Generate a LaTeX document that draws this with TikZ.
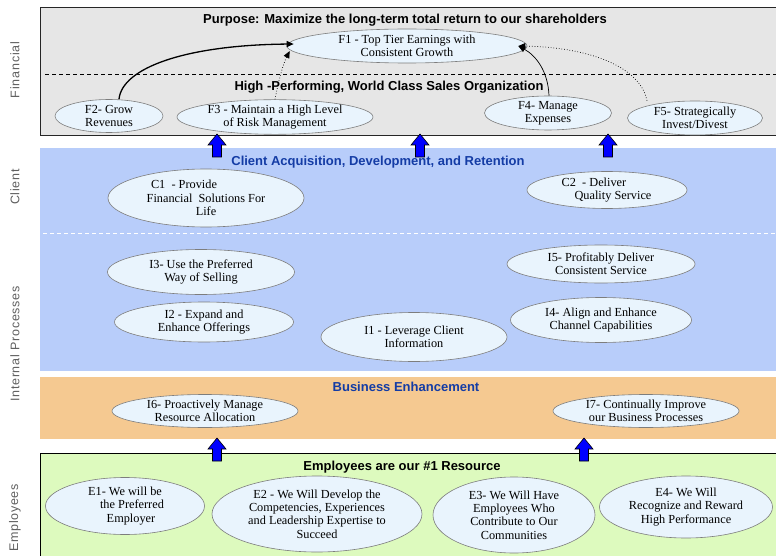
\documentclass[tikz,border=0pt]{standalone}
\usepackage{fontspec}
\setmainfont{Liberation Serif}
\setsansfont{Liberation Sans}
\newfontfamily\sidefont[LetterSpace=6]{Liberation Sans}
\usetikzlibrary{shapes.geometric,arrows.meta}

\definecolor{fingray}{RGB}{230,230,230}
\definecolor{clientblue}{RGB}{184,205,250}
\definecolor{bizorange}{RGB}{245,201,145}
\definecolor{empgreen}{RGB}{221,250,190}
\definecolor{ellfill}{RGB}{233,244,253}
\definecolor{ellborder}{RGB}{125,125,125}
\definecolor{headblue}{RGB}{20,60,165}
\definecolor{sidegray}{RGB}{95,95,95}
\definecolor{arrowblue}{RGB}{0,0,255}

\tikzset{
  goal/.style={ellipse, draw=ellborder, line width=0.6pt, fill=ellfill, inner sep=0pt,
    align=center, font=\fontsize{12.3}{13.3}\selectfont},
  title/.style={font=\sffamily\bfseries\fontsize{13}{15}\selectfont, inner sep=0pt},
  bluetitle/.style={title, text=headblue},
  side/.style={font=\sidefont\fontsize{12.5}{14}\selectfont, text=sidegray, rotate=90, inner sep=0pt},
  link/.style={line width=0.7pt, -{Triangle[length=7pt,width=6pt]}},
  boldlink/.style={link, line width=1.3pt},
  dotlink/.style={link, line width=0.7pt, dotted},
  uparrow/.pic={
    \draw[fill=arrowblue, draw=black, line width=0.6pt]
      (-4.5,0) -- (-4.5,-12) -- (-9,-12) -- (0,-23) -- (9,-12) -- (4.5,-12) -- (4.5,0) -- cycle;
  }
}

\begin{document}
\begin{tikzpicture}[x=1pt, y=-1pt]
\useasboundingbox (0,0) rectangle (776,556);
\clip (0,0) rectangle (776,556);

% ---- bands ----
\draw[fill=fingray, draw=black!85, line width=0.7pt] (40,7) rectangle (790,135);
\draw[black, line width=0.6pt, dash pattern=on 4pt off 3pt] (45,74) -- (790,74);
\fill[clientblue] (40,148) rectangle (790,371);
\draw[white, line width=0.7pt, dash pattern=on 4pt off 3pt] (43,233) -- (790,233);
\fill[bizorange] (40,377) rectangle (790,439);
\draw[fill=empgreen, draw=black, line width=0.8pt] (40,453) rectangle (790,570);

% ---- perspective labels ----
\node[side] (lfin) at (15,70) {Financial};
\node[side] (lcli) at (15,187) {Client};
\node[side] (lint) at (15,344) {Internal Processes};
\node[side] (lemp) at (15,518) {Employees};

% ---- headings ----
\node[title] (purpose) at (405,20) {Purpose: Maximize the long-term total return to our shareholders};
\node[title] (hpwc) at (389,87) {High -Performing, World Class Sales Organization};
\node[bluetitle] (cadr) at (378,162) {Client Acquisition, Development, and Retention};
\node[bluetitle] (bizenh) at (406,387) {Business Enhancement};
\node[title] (emptitle) at (402,467) {Employees are our \#1 Resource};

% ---- financial objectives ----
\node[goal, minimum width=240pt, minimum height=34pt] (f1) at (407,46) {F1 - Top Tier Earnings with\\Consistent Growth};
\node[goal, minimum width=108pt, minimum height=33pt] (f2) at (109,116) {F2- Grow\\Revenues};
\node[goal, minimum width=196pt, minimum height=34pt] (f3) at (275,117) {F3 - Maintain a High Level\\of Risk Management};
\node[goal, minimum width=127pt, minimum height=32pt] (f4) at (548,113) {F4- Manage\\Expenses};
\node[goal, minimum width=135pt, minimum height=34pt] (f5) at (695,118) {F5- Strategically\\Invest/Divest};

% ---- client objectives ----
\node[goal, minimum width=196pt, minimum height=58pt] (c1) at (206,198) {C1\ \ - Provide\hspace*{44pt}\\Financial\ \ Solutions For\\Life};
\node[goal, minimum width=160pt, minimum height=37pt] (c2) at (607,190) {C2\ \ - Deliver\hspace*{26pt}\\\hspace*{12pt}Quality Service};

% ---- internal process objectives ----
\node[goal, minimum width=187pt, minimum height=45pt] (i3) at (201,272) {I3- Use the Preferred\\Way of Selling};
\node[goal, minimum width=179pt, minimum height=40pt] (i2) at (204,322) {I2 - Expand and\\Enhance Offerings};
\node[goal, minimum width=186pt, minimum height=49pt] (i1) at (414,337) {I1 - Leverage Client\\Information};
\node[goal, minimum width=188pt, minimum height=38pt] (i5) at (601,264) {I5- Profitably Deliver\\Consistent Service};
\node[goal, minimum width=181pt, minimum height=45pt] (i4) at (601,320) {I4- Align and Enhance\\Channel Capabilities};
\node[goal, minimum width=186pt, minimum height=33pt] (i6) at (205,411) {I6- Proactively Manage\\Resource Allocation};
\node[goal, minimum width=186pt, minimum height=33pt] (i7) at (646,411) {I7- Continually Improve\\our Business Processes};

% ---- employee objectives ----
\node[goal, minimum width=159pt, minimum height=57pt] (e1) at (125,506) {E1- We will be\\\hspace*{14pt}the Preferred\\\hspace*{12pt}Employer};
\node[goal, minimum width=210pt, minimum height=76pt] (e2) at (317,514) {E2 - We Will Develop the\\Competencies, Experiences\\and Leadership Expertise to\\Succeed};
\node[goal, minimum width=162pt, minimum height=76pt] (e3) at (514,515) {E3- We Will Have\\Employees Who\\Contribute to Our\\Communities};
\node[goal, minimum width=173pt, minimum height=62pt] (e4) at (686,507) {E4- We Will\\Recognize and Reward\\High Performance};

% ---- links into F1 ----
\draw[boldlink] ([xshift=10pt]f2.north) .. controls (122,68) and (185,45) .. ([shift={(7pt,2pt)}]f1.west);
\draw[dotlink] (f3.north) .. controls (279,78) and (284,62) .. ([shift={(3pt,-5pt)}]f1.west);
\draw[link] ([xshift=1pt]f4.north) .. controls (548,70) and (535,55) .. ([xshift=-9pt]f1.east);
\draw[dotlink] ([xshift=-48pt]f5.north) .. controls (640,65) and (585,47) .. ([xshift=-9pt]f1.east);

% ---- block arrows between bands ----
\pic at (217,157) {uparrow};
\pic at (420,157) {uparrow};
\pic at (608,157) {uparrow};
\pic at (217,461) {uparrow};
\pic at (584,461) {uparrow};
\end{tikzpicture}
\end{document}
